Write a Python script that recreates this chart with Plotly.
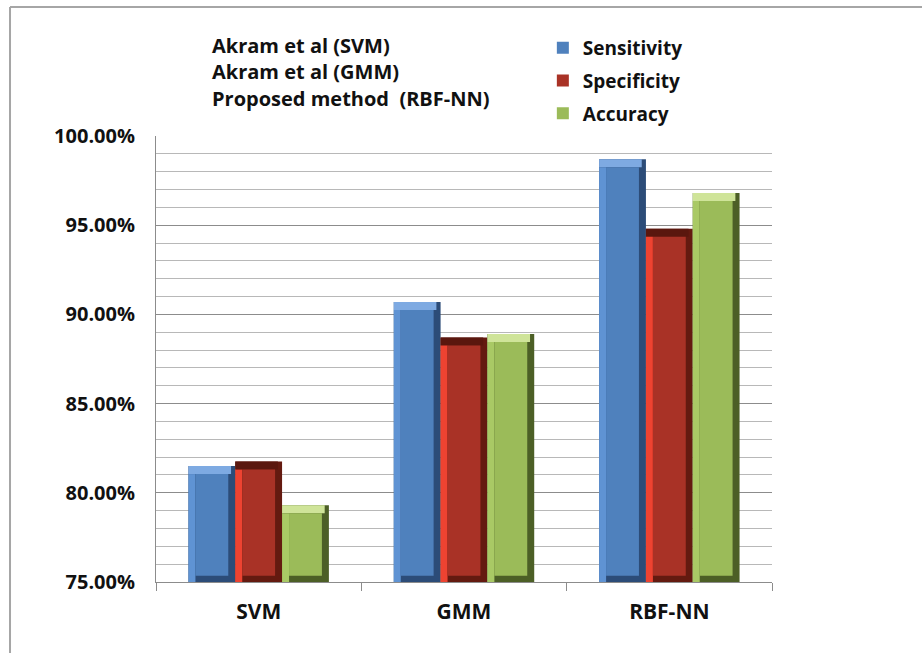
import plotly.graph_objects as go

# Classification performance (%) per method
methods = ["SVM", "GMM", "RBF-NN"]
metrics = ["Sensitivity", "Specificity", "Accuracy"]
sensitivity = [81.5, 90.7, 98.7]
specificity = [81.75, 88.7, 94.8]
accuracy = [79.3, 88.9, 96.8]
series_values = [sensitivity, specificity, accuracy]

notes = ["Akram et al (SVM)", "Akram et al (GMM)", "Proposed method\u00a0\u00a0(RBF-NN)"]

Y_MIN, Y_MAX = 75, 100

# colour sets per metric: face, light bevel (left), top bevel, dark edge
palettes = [
    dict(face="#4f81bd", left="#5f93d3", top="#7eaae2", edge="#2c4c78"),
    dict(face="#a93226", left="#ee4331", top="#5a170e", edge="#641a10"),
    dict(face="#9bbb59", left="#a9c965", top="#cfe499", edge="#4c5f26"),
]

BAR_W = 0.228
OFFSETS = [-0.342, -0.114, 0.114]
SIDE = 0.034     # bevel width in category units
TOP = 0.45       # bevel height in percent units
BOTTOM = 0.35

fig = go.Figure()
for i, (name, vals, pal) in enumerate(zip(metrics, series_values, palettes)):
    off = OFFSETS[i]
    common = dict(x=methods, legendgroup=name, hoverinfo="skip")
    # dark body (right / bottom edge)
    fig.add_trace(go.Bar(
        y=[v - Y_MIN for v in vals], base=Y_MIN, offset=off, width=BAR_W,
        marker=dict(color=pal["edge"], line=dict(width=0)), showlegend=False, **common))
    # top bevel
    fig.add_trace(go.Bar(
        y=[TOP] * len(vals), base=[v - TOP for v in vals], offset=off,
        width=BAR_W - SIDE * 0.6,
        marker=dict(color=pal["top"], line=dict(width=0)), showlegend=False, **common))
    # left bevel
    fig.add_trace(go.Bar(
        y=[v - TOP - Y_MIN for v in vals], base=Y_MIN, offset=off, width=SIDE,
        marker=dict(color=pal["left"], line=dict(width=0)), showlegend=False, **common))
    # front face
    fig.add_trace(go.Bar(
        y=[v - TOP - Y_MIN - BOTTOM for v in vals], base=Y_MIN + BOTTOM,
        offset=off + SIDE, width=BAR_W - 2 * SIDE, name=name,
        marker=dict(color=pal["face"], line=dict(width=0)),
        showlegend=True, hovertemplate="%{x}: %{y:.2f}%<extra>" + name + "</extra>",
        x=methods, legendgroup=name))

for k, txt in enumerate(notes):
    fig.add_annotation(
        text=txt, xref="paper", yref="paper", x=0.087, y=[1.204, 1.145, 1.085][k],
        xanchor="left", yanchor="middle", showarrow=False,
        font=dict(family="Open Sans", size=20, color="#111111", weight="bold"))

# outer frame lines
fig.add_shape(type="line", xref="paper", yref="paper",
              x0=-0.237, x1=1.3, y0=1.289, y1=1.289,
              line=dict(color="#a6a6a6", width=2))
fig.add_shape(type="line", xref="paper", yref="paper",
              x0=-0.237, x1=-0.237, y0=1.289, y1=-0.2,
              line=dict(color="#a6a6a6", width=2))

fig.update_layout(
    width=922, height=653,
    margin=dict(l=156, r=150, t=136, b=71),
    paper_bgcolor="white", plot_bgcolor="white",
    barmode="overlay",
    font=dict(family="Open Sans", color="#111111"),
    legend=dict(
        x=0.628, y=1.24, xanchor="left", yanchor="top",
        font=dict(family="Open Sans", size=19, color="#111111", weight="bold"),
        tracegroupgap=5, itemsizing="constant", bgcolor="rgba(0,0,0,0)",
    ),
    xaxis=dict(
        type="category", range=[-0.5, 2.5],
        showline=True, linecolor="#8c8c8c", linewidth=1,
        ticks="outside", tickson="boundaries", ticklen=8, tickcolor="#8c8c8c",
        ticklabelstandoff=11,
        tickfont=dict(family="Open Sans", size=21, color="#111111", weight="bold"),
        showgrid=False,
    ),
    yaxis=dict(
        range=[Y_MIN, Y_MAX], dtick=5, tick0=75,
        tickformat=".2f", ticksuffix="%",
        showline=True, linecolor="#8c8c8c", linewidth=1,
        showgrid=True, gridcolor="#8c8c8c", gridwidth=1,
        minor=dict(dtick=1, showgrid=True, gridcolor="#b8b8b8", gridwidth=1),
        ticks="", ticklabelstandoff=16,
        tickfont=dict(family="Open Sans", size=20, color="#111111", weight="bold"),
        zeroline=False,
    ),
)

fig.write_html("out.html")
